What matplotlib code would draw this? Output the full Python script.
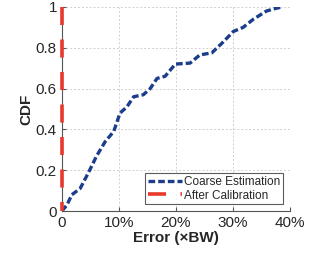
import matplotlib
matplotlib.use("Agg")
import matplotlib.pyplot as plt
from matplotlib.ticker import FuncFormatter

plt.rcParams['font.family'] = ['Liberation Sans', 'DejaVu Sans']

coarse_err = [0, 0.9, 1.75, 3.2, 4.7, 6.1, 7.6, 9.1, 10.2, 11.4, 12.6, 14.3, 15.5, 16.7,
              18.1, 19.9, 22.5, 24.2, 26.3, 28.0, 30.1, 31.8, 33.6, 35.9, 37.1, 38.6]
coarse_cdf = [0, 0.03, 0.08, 0.11, 0.19, 0.27, 0.34, 0.39, 0.48, 0.51, 0.56, 0.57, 0.60, 0.65,
              0.66, 0.72, 0.725, 0.765, 0.775, 0.82, 0.88, 0.90, 0.94, 0.98, 0.99, 1.0]
calib_err = [0, 0]
calib_cdf = [1, 0]
xticks = [0, 10, 20, 30, 40]
yticks = [0, 0.2, 0.4, 0.6, 0.8, 1]

fig = plt.figure(figsize=(3.29, 2.58), dpi=100)
ax = fig.add_axes([0.188, 0.182, 0.693, 0.791])

tc = '#262626'
ax.plot(coarse_err, coarse_cdf, color='#1c3d8c', lw=2.4, ls=(0, (2.0, 0.9)),
        label='Coarse Estimation', zorder=3)
ax.plot(calib_err, calib_cdf, color='#e8392b', lw=2.6, ls=(0, (5.0, 4.0)),
        label='After Calibration', clip_on=False, zorder=4)

ax.set_xlim(0, 40)
ax.set_ylim(0, 1)
ax.set_xticks(xticks)
ax.set_yticks(yticks)
ax.xaxis.set_major_formatter(FuncFormatter(lambda v, p: '0' if v == 0 else f'{int(v)}%'))
ax.yaxis.set_major_formatter(FuncFormatter(lambda v, p: f'{v:g}'))
ax.grid(True, color='#d0d0d0', ls=(0, (2, 2)), lw=0.7)
ax.set_axisbelow(True)
for s in ['top', 'right']:
    ax.spines[s].set_visible(False)
for s in ['left', 'bottom']:
    ax.spines[s].set_color('#555555')
    ax.spines[s].set_linewidth(0.8)
ax.tick_params(direction='in', length=3, colors='#555555', labelcolor=tc, labelsize=11)
ax.set_xlabel('Error (×BW)', fontsize=11, fontweight='bold', color=tc, labelpad=1)
ax.set_ylabel('CDF', fontsize=11, fontweight='bold', color=tc, labelpad=2)

leg = ax.legend(loc='lower right', fontsize=8.5, frameon=True, fancybox=False,
                edgecolor='#333333', handlelength=2.9, handletextpad=0.2,
                borderpad=0.2, labelspacing=0.15, borderaxespad=0.6)
leg.get_frame().set_linewidth(0.8)
for t in leg.get_texts():
    t.set_color(tc)

fig.savefig('out.png', dpi=100)
